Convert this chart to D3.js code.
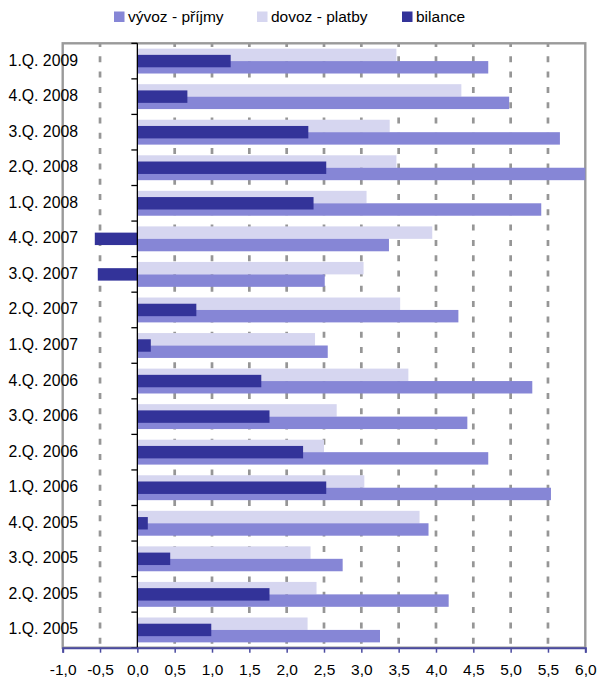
<!DOCTYPE html>
<html><head><meta charset="utf-8">
<script src="https://cdn.jsdelivr.net/npm/d3@7"></script>
<style>body{margin:0;background:#fff;}svg{display:block;font-family:"Liberation Sans",Arial,sans-serif;}</style>
</head><body><svg id="c" width="598" height="679"></svg>
<script>
const categories = ["1.Q. 2009","4.Q. 2008","3.Q. 2008","2.Q. 2008","1.Q. 2008","4.Q. 2007","3.Q. 2007","2.Q. 2007","1.Q. 2007","4.Q. 2006","3.Q. 2006","2.Q. 2006","1.Q. 2006","4.Q. 2005","3.Q. 2005","2.Q. 2005","1.Q. 2005"];
const vyvoz   = [4.70, 4.98, 5.66, 6.00, 5.41, 3.37, 2.51, 4.30, 2.55, 5.29, 4.42, 4.70, 5.54, 3.90, 2.75, 4.17, 3.25];
const dovoz   = [3.47, 4.34, 3.38, 3.47, 3.07, 3.95, 3.03, 3.52, 2.38, 3.63, 2.67, 2.50, 3.04, 3.78, 2.32, 2.40, 2.28];
const bilance = [1.25, 0.67, 2.29, 2.53, 2.36, -0.57, -0.53, 0.79, 0.18, 1.66, 1.77, 2.22, 2.53, 0.14, 0.44, 1.77, 0.99];
const xTicks = [-1,-0.5,0,0.5,1,1.5,2,2.5,3,3.5,4,4.5,5,5.5,6];
const seriesNames = ["vývoz - příjmy","dovoz - platby","bilance"];
const colors = ["#8686d6","#d6d6f0","#333399"];

const svg = d3.select("#c");
const L = 62.7, R = 585.3, T = 43.3, B = 647.7;
const x = d3.scaleLinear().domain([-1, 6]).range([L, R]);
const y = d3.scaleBand().domain(categories).range([T, B]).padding(0);
const bw = y.bandwidth();
const h = bw * 0.35;

// gridlines
svg.append("g").selectAll("line").data(xTicks.filter(t => t !== 0 && t !== -1 && t !== 6)).join("line")
  .attr("x1", d => x(d)).attr("x2", d => x(d)).attr("y1", T).attr("y2", B)
  .attr("stroke", "#969696").attr("stroke-width", 2.7)
  .attr("stroke-dasharray", "6,9.3").attr("stroke-dashoffset", 2.3);

// plot border
svg.append("rect").attr("x", L).attr("y", T).attr("width", R - L).attr("height", B - T)
  .attr("fill", "none").attr("stroke", "#9a9a9a").attr("stroke-width", 2.4);

const data = categories.map((c, i) => ({c, v: vyvoz[i], d: dovoz[i], b: bilance[i]}));
const gBars = svg.append("g");
function bars(key, off, col) {
  gBars.append("g").selectAll("rect").data(data).join("rect")
    .attr("x", d => x(Math.min(0, d[key])))
    .attr("width", d => Math.abs(x(d[key]) - x(0)))
    .attr("y", d => y(d.c) + bw / 2 + off)
    .attr("height", h)
    .attr("fill", col);
}
bars("d", -h, colors[1]);
bars("v", 0, colors[0]);
bars("b", -h / 2, colors[2]);

// y axis at zero
const yAxis = svg.append("g");
yAxis.append("line").attr("x1", x(0)).attr("x2", x(0)).attr("y1", T).attr("y2", B)
  .attr("stroke", "#000").attr("stroke-width", 1.3);
const bounds = categories.map(c => y(c)).concat([B]);
yAxis.selectAll("line.t").data(bounds).join("line").attr("class", "t")
  .attr("x1", x(0) - 6).attr("x2", x(0)).attr("y1", d => d).attr("y2", d => d)
  .attr("stroke", "#000").attr("stroke-width", 1.3);

// category labels
svg.append("g").selectAll("text").data(categories).join("text")
  .attr("x", 78).attr("y", d => y(d) + bw / 2 + 4.5)
  .attr("text-anchor", "end").attr("font-size", 15.8).attr("fill", "#000")
  .text(d => d);

// x axis
const xa = svg.append("g").attr("transform", `translate(0,${B})`)
  .call(d3.axisBottom(x).tickValues(xTicks).tickSize(5).tickPadding(0)
    .tickFormat(d => d3.format(".1f")(d).replace(".", ",").replace("−", "-")));
xa.select(".domain").attr("stroke", "#4b4ba0").attr("stroke-width", 2);
xa.selectAll(".tick line").attr("stroke", "#4b4ba0").attr("stroke-width", 1.5);
xa.selectAll(".tick text").attr("font-size", 15.5).attr("fill", "#000")
  .attr("font-family", "Liberation Sans, Arial, sans-serif")
  .attr("dy", null).attr("y", 27);

// legend
const legX = [114, 257, 402];
const leg = svg.append("g");
seriesNames.forEach((n, i) => {
  leg.append("rect").attr("x", legX[i]).attr("y", 11.5).attr("width", 10.5).attr("height", 10.5).attr("fill", colors[i]);
  leg.append("text").attr("x", legX[i] + 14).attr("y", 22).attr("font-size", 15.5).attr("fill", "#000").text(n);
});
</script></body></html>
